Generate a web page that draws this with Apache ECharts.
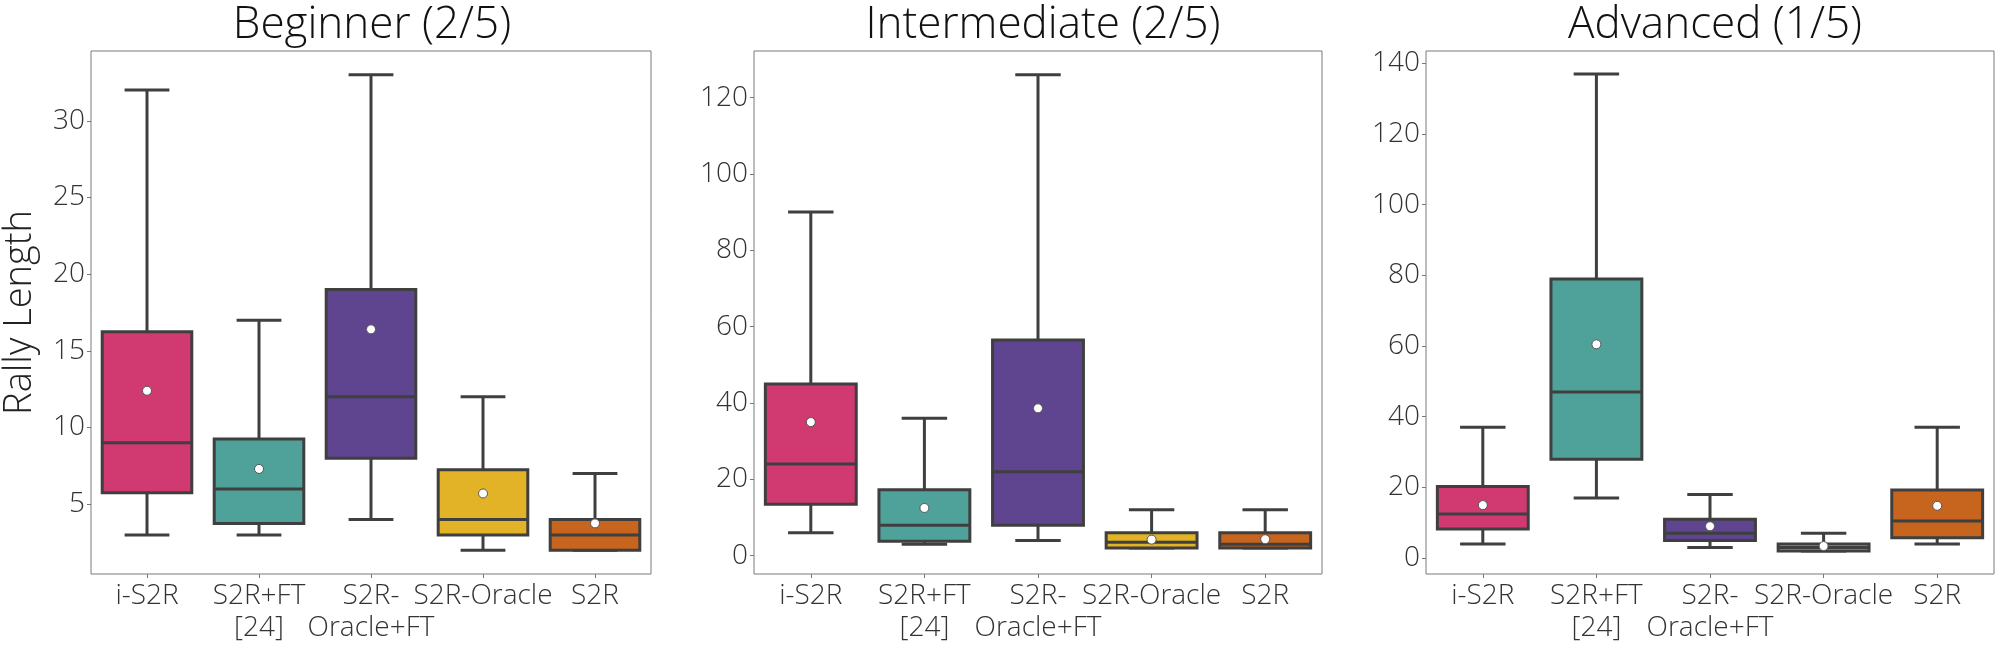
<!DOCTYPE html>
<html>
<head>
<meta charset="utf-8">
<script src="https://cdn.jsdelivr.net/npm/echarts@6/dist/echarts.min.js"></script>
<style>
  html, body { margin: 0; padding: 0; background: #fff; }
  #chart { width: 1999px; height: 645px; }
</style>
</head>
<body>
<div id="chart"></div>
<script>
// categories shared by the three panels
var categories = ['i-S2R', 'S2R+FT\n[24]', 'S2R-\nOracle+FT', 'S2R-Oracle', 'S2R'];

// [whisker low, Q1, median, Q3, whisker high]
var beginnerBoxes = [
  [3, 5.75, 9, 16.25, 32],
  [3, 3.75, 6, 9.25, 17],
  [4, 8, 12, 19, 33],
  [2, 3, 4, 7.25, 12],
  [2, 2, 3, 4, 7]
];
var beginnerMeans = [12.4, 7.3, 16.4, 5.7, 3.75];

var intermediateBoxes = [
  [6, 13.5, 24, 45, 90],
  [3, 3.75, 8, 17.25, 36],
  [4, 8, 22, 56.5, 126],
  [2, 2, 3.5, 6, 12],
  [2, 2, 3, 6, 12]
];
var intermediateMeans = [35, 12.5, 38.6, 4.2, 4.3];

var advancedBoxes = [
  [4, 8.25, 12.5, 20.25, 37],
  [17, 28, 47, 79, 137],
  [3, 5, 7, 11, 18],
  [2, 2, 3, 4, 7],
  [4, 5.75, 10.5, 19.25, 37]
];
var advancedMeans = [15, 60.5, 9, 3.4, 14.8];

// tick labels of each panel
var beginnerTicks = [5, 10, 15, 20, 25, 30];
var intermediateTicks = [0, 20, 40, 60, 80, 100, 120];
var advancedTicks = [0, 20, 40, 60, 80, 100, 120, 140];

var titles = ['Beginner (2/5)', 'Intermediate (2/5)', 'Advanced (1/5)'];

(function() {
  var palette = ['#d03a70', '#4fa29a', '#5f448f', '#e2b227', '#c7651e'];
  var edge = '#3f3f3f';
  var font = '"Open Sans", "DejaVu Sans", sans-serif';

  var panels = [
    { boxes: beginnerBoxes, means: beginnerMeans, ticks: beginnerTicks, min: 0.45, max: 34.55 },
    { boxes: intermediateBoxes, means: intermediateMeans, ticks: intermediateTicks, min: -4.8, max: 132.2 },
    { boxes: advancedBoxes, means: advancedMeans, ticks: advancedTicks, min: -4.5, max: 143.5 }
  ];
  var lefts = [83, 754, 1426];
  var plotW = 568, plotTop = 51, plotH = 523;

  function renderBox(params, api) {
    var i = api.value(0);
    var lo = api.coord([i, api.value(1)]);
    var q1 = api.coord([i, api.value(2)]);
    var md = api.coord([i, api.value(3)]);
    var q3 = api.coord([i, api.value(4)]);
    var hi = api.coord([i, api.value(5)]);
    var band = api.size([1, 0])[0];
    var half = band * 0.4, cap = band * 0.2;
    var x = lo[0];
    var line = { stroke: edge, lineWidth: 3 };
    return {
      type: 'group',
      children: [
        { type: 'line', shape: { x1: x, y1: lo[1], x2: x, y2: q1[1] }, style: line },
        { type: 'line', shape: { x1: x, y1: q3[1], x2: x, y2: hi[1] }, style: line },
        { type: 'line', shape: { x1: x - cap, y1: lo[1], x2: x + cap, y2: lo[1] }, style: line },
        { type: 'line', shape: { x1: x - cap, y1: hi[1], x2: x + cap, y2: hi[1] }, style: line },
        { type: 'rect', shape: { x: x - half, y: q3[1], width: half * 2, height: q1[1] - q3[1] },
          style: { fill: palette[i], stroke: edge, lineWidth: 3 } },
        { type: 'line', shape: { x1: x - half, y1: md[1], x2: x + half, y2: md[1] }, style: line }
      ]
    };
  }

  var title = [], grid = [], xAxis = [], yAxis = [], series = [];
  panels.forEach(function(p, k) {
    title.push({
      text: titles[k],
      left: lefts[k] + plotW / 2,
      textAlign: 'center',
      top: -5,
      textStyle: { fontFamily: font, fontSize: 44, fontWeight: 300, color: '#111', lineHeight: 50 }
    });
    grid.push({
      left: lefts[k], top: plotTop, width: plotW, height: plotH,
      show: true, borderColor: '#7a7a7a', borderWidth: 1, backgroundColor: '#fff'
    });
    xAxis.push({
      type: 'category',
      gridIndex: k,
      data: categories,
      axisLine: { show: false, onZero: false },
      axisTick: { show: true, alignWithLabel: true, length: 4, lineStyle: { color: '#777' } },
      axisLabel: {
        interval: 0, margin: 6,
        fontFamily: font, fontSize: 28, fontWeight: 300, color: '#333', lineHeight: 32
      },
      splitLine: { show: false }
    });
    yAxis.push({
      type: 'value',
      gridIndex: k,
      min: p.min, max: p.max,
      name: k === 0 ? 'Rally Length' : '',
      nameLocation: 'middle',
      nameGap: 52,
      nameTextStyle: { fontFamily: font, fontSize: 38, fontWeight: 300, color: '#222' },
      axisLine: { show: false },
      axisTick: { show: true, length: 4, customValues: p.ticks, lineStyle: { color: '#777' } },
      axisLabel: {
        margin: 6, customValues: p.ticks,
        fontFamily: font, fontSize: 28, fontWeight: 300, color: '#333'
      },
      splitLine: { show: false }
    });
    series.push({
      type: 'custom',
      xAxisIndex: k, yAxisIndex: k,
      renderItem: renderBox,
      encode: { x: 0, y: [1, 2, 3, 4, 5] },
      data: p.boxes.map(function(b, i) { return [i].concat(b); }),
      z: 2
    });
    series.push({
      type: 'scatter',
      xAxisIndex: k, yAxisIndex: k,
      symbol: 'circle',
      symbolSize: 9,
      itemStyle: { color: '#fff', borderColor: '#555', borderWidth: 1, opacity: 1 },
      data: p.means.map(function(m, i) { return [i, m]; }),
      z: 5
    });
  });

  var chart = echarts.init(document.getElementById('chart'));
  chart.setOption({
    animation: false,
    title: title,
    grid: grid,
    xAxis: xAxis,
    yAxis: yAxis,
    series: series
  });
  window.addEventListener('resize', function() { chart.resize(); });
})();
</script>
</body>
</html>
